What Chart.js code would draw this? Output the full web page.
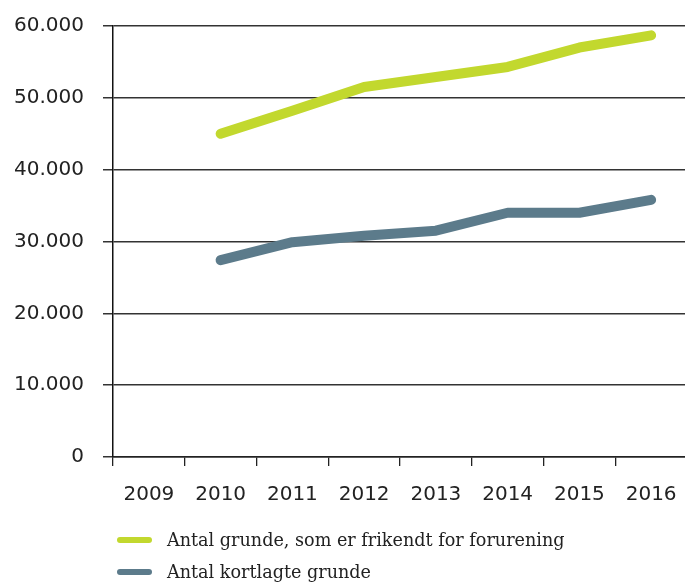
<!DOCTYPE html>
<html>
<head>
<meta charset="utf-8">
<script src="https://cdn.jsdelivr.net/npm/chart.js@4/dist/chart.umd.min.js"></script>
<style>
  html, body { margin: 0; padding: 0; background: #fff; }
  #wrap { position: relative; width: 685px; height: 582px; overflow: hidden; }
  #c { position: absolute; left: 0; top: 0; }
  #legend { position: absolute; left: 117px; top: 524px; font-family: "DejaVu Serif", serif; font-size: 17.6px; color: #222; }
  .item { display: flex; align-items: center; height: 32px; }
  .sw { width: 35px; height: 6px; border-radius: 3px; margin-right: 15px; }
</style>
</head>
<body>
<div id="wrap">
  <canvas id="c" width="687" height="582"></canvas>
  <div id="legend"></div>
</div>
<script>
const years = ["2009", "2010", "2011", "2012", "2013", "2014", "2015", "2016"];
const seriesNames = ["Antal grunde, som er frikendt for forurening", "Antal kortlagte grunde"];
const seriesColors = ["#c2d82e", "#5c7b8b"];
const frikendt = [null, 45000, 48200, 51500, 52900, 54300, 57000, 58700];
const kortlagte = [null, 27400, 29900, 30800, 31500, 34000, 34000, 35800];
const yTicks = [0, 10000, 20000, 30000, 40000, 50000, 60000];

function fmt(v) {
  return String(v).replace(/\B(?=(\d{3})+(?!\d))/g, ".");
}

const tickFont = { family: "DejaVu Sans", size: 20 };

new Chart(document.getElementById("c"), {
  type: "line",
  data: {
    labels: years,
    datasets: [
      { label: seriesNames[0], data: frikendt, borderColor: seriesColors[0], backgroundColor: seriesColors[0] },
      { label: seriesNames[1], data: kortlagte, borderColor: seriesColors[1], backgroundColor: seriesColors[1] }
    ]
  },
  options: {
    responsive: false,
    animation: false,
    layout: { padding: { top: 26, right: 0, bottom: 65, left: 0 } },
    elements: {
      line: { borderWidth: 10, borderCapStyle: "round", borderJoinStyle: "round", tension: 0 },
      point: { radius: 0, hoverRadius: 0 }
    },
    plugins: { legend: { display: false }, tooltip: { enabled: false } },
    scales: {
      x: {
        type: "category",
        offset: true,
        grid: { offset: true, drawOnChartArea: false, drawTicks: true, tickLength: 9, color: "#222", lineWidth: 1.3 },
        border: { display: true, color: "#222", width: 1.5 },
        ticks: { font: tickFont, color: "#222", padding: 17, maxRotation: 0, autoSkip: false },
        afterFit: s => { s.height = 60; s.paddingLeft = 0; s.paddingRight = 0; }
      },
      y: {
        min: 0, max: 60000,
        afterBuildTicks: s => { s.ticks = yTicks.map(v => ({ value: v })); },
        grid: { color: "#333", lineWidth: 1.5, drawTicks: true, tickLength: 10 },
        border: { display: true, color: "#111", width: 1.5 },
        ticks: { font: tickFont, color: "#222", padding: 19, callback: v => fmt(v) },
        afterFit: s => { s.width = 113; s.paddingTop = 0; s.paddingBottom = 0; }
      }
    }
  }
});

const legend = document.getElementById("legend");
seriesNames.forEach((name, i) => {
  const it = document.createElement("div");
  it.className = "item";
  const sw = document.createElement("span");
  sw.className = "sw";
  sw.style.background = seriesColors[i];
  const tx = document.createElement("span");
  tx.textContent = name;
  it.appendChild(sw);
  it.appendChild(tx);
  legend.appendChild(it);
});
</script>
</body>
</html>
